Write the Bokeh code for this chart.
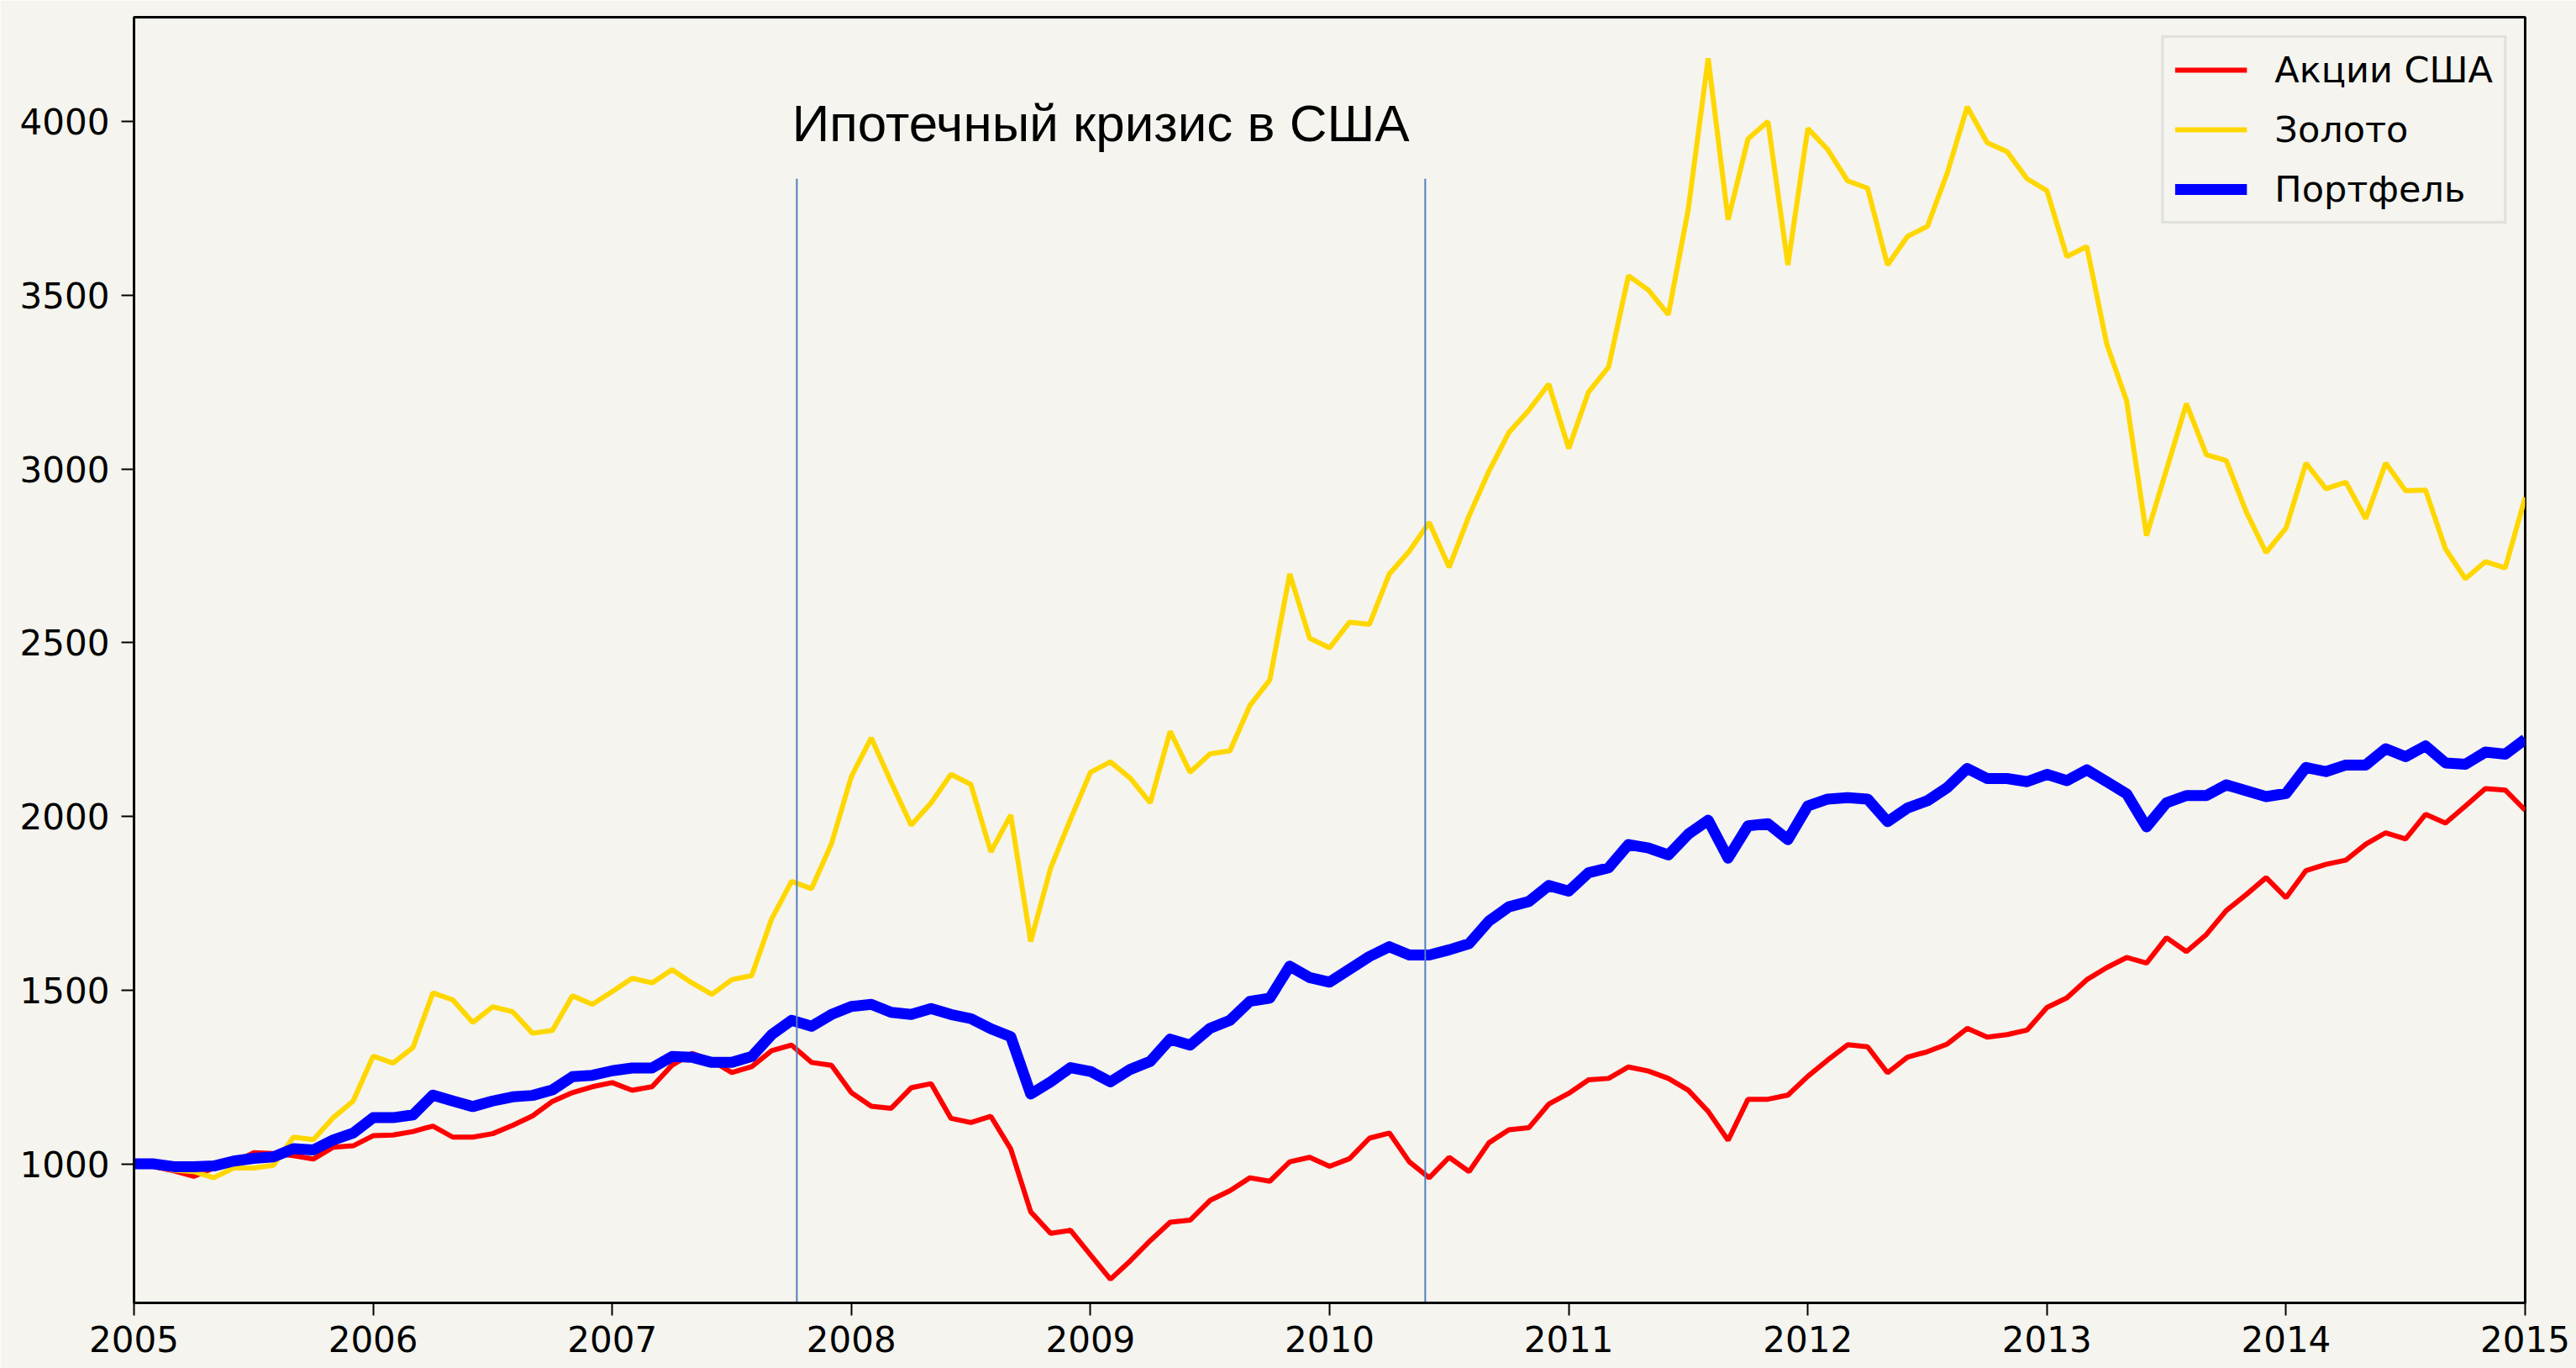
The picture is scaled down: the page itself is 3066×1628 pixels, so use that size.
from bokeh.plotting import figure
from bokeh.models import Range1d, FixedTicker, ColumnDataSource
from bokeh.core.properties import value
from bokeh.embed import file_html
from bokeh.resources import INLINE

# ---- data (monthly, Jan 2005 .. Jan 2015) ----
stocks = [1000, 992, 980, 964, 988, 1004, 1032, 1030, 1024, 1014, 1048, 1052,
          1081, 1083, 1093, 1109, 1077, 1077, 1087, 1111, 1138, 1180, 1205, 1222,
          1234, 1212, 1222, 1284, 1318, 1297, 1263, 1280, 1326, 1342, 1292, 1284,
          1205, 1166, 1160, 1219, 1231, 1131, 1119, 1137, 1043, 862, 800, 809,
          738, 668, 721, 779, 832, 838, 895, 923, 960, 950, 1006, 1019,
          993, 1015, 1074, 1089, 1006, 960, 1019, 978, 1061, 1098, 1104, 1172,
          1203, 1242, 1246, 1279, 1267, 1246, 1212, 1151, 1068, 1186, 1186, 1198,
          1252, 1299, 1343, 1337, 1262, 1307, 1323, 1345, 1390, 1365, 1372, 1385,
          1450, 1478, 1530, 1565, 1594, 1578, 1651, 1611, 1660, 1729, 1775, 1824,
          1766, 1844, 1862, 1874, 1920, 1953, 1935, 2006, 1981, 2030, 2080, 2076,
          2018]

gold = [1000, 996, 982, 978, 960, 988, 988, 996, 1077, 1070, 1133, 1181,
        1310, 1290, 1335, 1492, 1472, 1407, 1452, 1438, 1376, 1384, 1484, 1459,
        1496, 1534, 1521, 1559, 1521, 1488, 1530, 1542, 1705, 1813, 1792, 1921,
        2115, 2226, 2098, 1975, 2039, 2121, 2092, 1898, 2004, 1640, 1851, 1992,
        2127, 2157, 2110, 2039, 2245, 2127, 2180, 2189, 2319, 2393, 2698, 2513,
        2485, 2559, 2553, 2698, 2763, 2846, 2717, 2865, 2994, 3105, 3169, 3244,
        3059, 3222, 3293, 3556, 3515, 3444, 3747, 4182, 3717, 3950, 4000, 3587,
        3980, 3919, 3829, 3808, 3587, 3669, 3698, 3852, 4042, 3939, 3913, 3835,
        3801, 3611, 3640, 3360, 3196, 2808, 2998, 3188, 3041, 3024, 2877, 2759,
        2830, 3017, 2943, 2962, 2857, 3017, 2937, 2939, 2770, 2684, 2733, 2715,
        2918]

portfolio = [1000, 1000, 992, 992, 994, 1008, 1016, 1020, 1044, 1040, 1069, 1089,
             1133, 1133, 1141, 1198, 1181, 1165, 1181, 1193, 1197, 1213, 1251, 1255,
             1268, 1276, 1276, 1309, 1307, 1292, 1292, 1309, 1372, 1413, 1396, 1430,
             1453, 1459, 1436, 1430, 1447, 1430, 1418, 1389, 1366, 1201, 1236, 1277,
             1266, 1236, 1272, 1295, 1359, 1342, 1390, 1413, 1468, 1477, 1569, 1536,
             1523, 1560, 1597, 1625, 1601, 1601, 1616, 1634, 1699, 1740, 1755, 1801,
             1785, 1838, 1852, 1919, 1909, 1889, 1949, 1989, 1880, 1973, 1979, 1933,
             2030, 2050, 2054, 2050, 1985, 2024, 2045, 2083, 2138, 2109, 2109, 2100,
             2121, 2103, 2134, 2100, 2065, 1970, 2039, 2060, 2060, 2091, 2074, 2057,
             2066, 2141, 2129, 2148, 2148, 2195, 2172, 2203, 2154, 2150, 2185, 2179,
             2222]

start_year = 2005
years = [start_year + i / 12 for i in range(len(stocks))]

series_names = ["Акции США", "Золото", "Портфель"]
x_ticks = list(range(2005, 2016))
y_ticks = [1000, 1500, 2000, 2500, 3000, 3500, 4000]

crisis_dates = [2007.772, 2010.40]
crisis_top = 3835
crisis_label = "Ипотечный кризис в США"

# ---- styling ----
BG = "#f5f4ee"
FONT = "DejaVu Sans"

p = figure(width=3066, height=1628, output_backend="svg", toolbar_location=None,
           x_range=Range1d(2005, 2015), y_range=Range1d(600, 4300))
p.background_fill_color = BG
p.border_fill_color = BG
p.grid.visible = False
p.outline_line_color = "black"
p.outline_line_width = 3
p.min_border_left = 159
p.min_border_right = 61
p.min_border_top = 20
p.min_border_bottom = 78

src = ColumnDataSource(dict(x=years, s=stocks, g=gold, b=portfolio))
p.line("x", "s", source=src, color="#ff0000", line_width=6, legend_label=series_names[0])
p.line("x", "g", source=src, color="#ffd700", line_width=6, legend_label=series_names[1])
p.line("x", "b", source=src, color="#0000ff", line_width=13, legend_label=series_names[2],
       line_join="round")

p.segment(x0=crisis_dates, y0=[600, 600], x1=crisis_dates, y1=[crisis_top, crisis_top],
          line_color="#4f7fbf", line_width=2)

p.text(x=[crisis_dates[0] - 0.02], y=[3995], text=[crisis_label],
       text_font=value("Liberation Sans"), text_font_size="62px",
       text_baseline="alphabetic", text_align="left", text_color="black")

p.xaxis.ticker = FixedTicker(ticks=x_ticks)
p.yaxis.ticker = FixedTicker(ticks=y_ticks)
for ax in (p.xaxis[0], p.yaxis[0]):
    ax.axis_line_color = "black"
    ax.axis_line_width = 3
    ax.major_tick_line_color = "black"
    ax.major_tick_line_width = 2
    ax.major_tick_out = 15
    ax.major_tick_in = 0
    ax.minor_tick_out = 0
    ax.minor_tick_in = 0
    ax.major_label_text_font = FONT
    ax.major_label_text_font_size = "42px"
    ax.major_label_text_color = "black"
p.xaxis.major_label_standoff = 12
p.yaxis.major_label_standoff = 14

lg = p.legend[0]
lg.location = "top_right"
lg.margin = 22
lg.padding = 13
lg.spacing = 21
lg.glyph_width = 86
lg.glyph_height = 50
lg.label_height = 50
lg.label_standoff = 33
lg.label_text_font = FONT
lg.label_text_font_size = "43px"
lg.label_text_color = "black"
lg.background_fill_color = BG
lg.background_fill_alpha = 1.0
lg.border_line_color = "#cccccc"
lg.border_line_width = 3

open("out.html", "w").write(file_html(p, INLINE))
